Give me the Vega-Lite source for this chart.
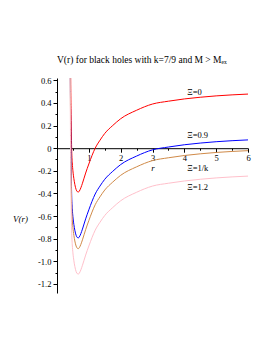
{
  "$schema": "https://vega.github.io/schema/vega-lite/v6.json",
  "autosize": "none",
  "width": 191,
  "height": 215,
  "padding": {"left": 57, "top": 78, "right": 22, "bottom": 57},
  "background": "white",
  "config": {"view": {"stroke": null}, "font": "Liberation Serif", "axis": {"labelOverlap": false, "labelBound": false, "labelFlush": false}},
  "title": {"text": "V(r) for black holes with k=7/9 and M > Mₑₓ", "anchor": "start", "frame": "group", "dx": 0, "offset": 12, "fontSize": 9.5, "fontWeight": "normal", "font": "Liberation Serif", "color": "black"},
  "datasets": {
    "curves": [
      {"r":0.40,"V":2.0,"Xi":"Ξ=0"},{"r":0.42,"V":1.0,"Xi":"Ξ=0"},{"r":0.43,"V":0.6,"Xi":"Ξ=0"},{"r":0.44,"V":0.35,"Xi":"Ξ=0"},{"r":0.45,"V":0.15,"Xi":"Ξ=0"},{"r":0.46,"V":0.0,"Xi":"Ξ=0"},{"r":0.48,"V":-0.13,"Xi":"Ξ=0"},{"r":0.50,"V":-0.2,"Xi":"Ξ=0"},{"r":0.53,"V":-0.27,"Xi":"Ξ=0"},{"r":0.56,"V":-0.32,"Xi":"Ξ=0"},{"r":0.60,"V":-0.365,"Xi":"Ξ=0"},{"r":0.64,"V":-0.385,"Xi":"Ξ=0"},{"r":0.67,"V":-0.388,"Xi":"Ξ=0"},{"r":0.70,"V":-0.38,"Xi":"Ξ=0"},{"r":0.75,"V":-0.35,"Xi":"Ξ=0"},{"r":0.80,"V":-0.31,"Xi":"Ξ=0"},{"r":0.90,"V":-0.22,"Xi":"Ξ=0"},{"r":1.0,"V":-0.14,"Xi":"Ξ=0"},{"r":1.1,"V":-0.065,"Xi":"Ξ=0"},{"r":1.2,"V":0.0,"Xi":"Ξ=0"},{"r":1.35,"V":0.07,"Xi":"Ξ=0"},{"r":1.5,"V":0.13,"Xi":"Ξ=0"},{"r":1.75,"V":0.2,"Xi":"Ξ=0"},{"r":2.0,"V":0.26,"Xi":"Ξ=0"},{"r":2.5,"V":0.335,"Xi":"Ξ=0"},{"r":3.0,"V":0.39,"Xi":"Ξ=0"},{"r":3.5,"V":0.415,"Xi":"Ξ=0"},{"r":4.0,"V":0.435,"Xi":"Ξ=0"},{"r":4.5,"V":0.45,"Xi":"Ξ=0"},{"r":5.0,"V":0.462,"Xi":"Ξ=0"},{"r":5.5,"V":0.471,"Xi":"Ξ=0"},{"r":6.0,"V":0.478,"Xi":"Ξ=0"},

      {"r":0.40,"V":1.6,"Xi":"Ξ=0.9"},{"r":0.42,"V":0.595,"Xi":"Ξ=0.9"},{"r":0.43,"V":0.195,"Xi":"Ξ=0.9"},{"r":0.44,"V":-0.055,"Xi":"Ξ=0.9"},{"r":0.45,"V":-0.255,"Xi":"Ξ=0.9"},{"r":0.46,"V":-0.405,"Xi":"Ξ=0.9"},{"r":0.48,"V":-0.535,"Xi":"Ξ=0.9"},{"r":0.50,"V":-0.605,"Xi":"Ξ=0.9"},{"r":0.53,"V":-0.675,"Xi":"Ξ=0.9"},{"r":0.56,"V":-0.725,"Xi":"Ξ=0.9"},{"r":0.60,"V":-0.77,"Xi":"Ξ=0.9"},{"r":0.64,"V":-0.79,"Xi":"Ξ=0.9"},{"r":0.67,"V":-0.793,"Xi":"Ξ=0.9"},{"r":0.70,"V":-0.785,"Xi":"Ξ=0.9"},{"r":0.75,"V":-0.755,"Xi":"Ξ=0.9"},{"r":0.80,"V":-0.715,"Xi":"Ξ=0.9"},{"r":0.90,"V":-0.625,"Xi":"Ξ=0.9"},{"r":1.0,"V":-0.545,"Xi":"Ξ=0.9"},{"r":1.1,"V":-0.47,"Xi":"Ξ=0.9"},{"r":1.2,"V":-0.405,"Xi":"Ξ=0.9"},{"r":1.35,"V":-0.335,"Xi":"Ξ=0.9"},{"r":1.5,"V":-0.275,"Xi":"Ξ=0.9"},{"r":1.75,"V":-0.205,"Xi":"Ξ=0.9"},{"r":2.0,"V":-0.145,"Xi":"Ξ=0.9"},{"r":2.5,"V":-0.07,"Xi":"Ξ=0.9"},{"r":3.0,"V":-0.015,"Xi":"Ξ=0.9"},{"r":3.5,"V":0.01,"Xi":"Ξ=0.9"},{"r":4.0,"V":0.03,"Xi":"Ξ=0.9"},{"r":4.5,"V":0.045,"Xi":"Ξ=0.9"},{"r":5.0,"V":0.057,"Xi":"Ξ=0.9"},{"r":5.5,"V":0.066,"Xi":"Ξ=0.9"},{"r":6.0,"V":0.073,"Xi":"Ξ=0.9"},

      {"r":0.40,"V":1.5,"Xi":"Ξ=1/k"},{"r":0.42,"V":0.5,"Xi":"Ξ=1/k"},{"r":0.43,"V":0.1,"Xi":"Ξ=1/k"},{"r":0.44,"V":-0.15,"Xi":"Ξ=1/k"},{"r":0.45,"V":-0.35,"Xi":"Ξ=1/k"},{"r":0.46,"V":-0.5,"Xi":"Ξ=1/k"},{"r":0.48,"V":-0.63,"Xi":"Ξ=1/k"},{"r":0.50,"V":-0.7,"Xi":"Ξ=1/k"},{"r":0.53,"V":-0.77,"Xi":"Ξ=1/k"},{"r":0.56,"V":-0.82,"Xi":"Ξ=1/k"},{"r":0.60,"V":-0.865,"Xi":"Ξ=1/k"},{"r":0.64,"V":-0.885,"Xi":"Ξ=1/k"},{"r":0.67,"V":-0.888,"Xi":"Ξ=1/k"},{"r":0.70,"V":-0.88,"Xi":"Ξ=1/k"},{"r":0.75,"V":-0.85,"Xi":"Ξ=1/k"},{"r":0.80,"V":-0.81,"Xi":"Ξ=1/k"},{"r":0.90,"V":-0.72,"Xi":"Ξ=1/k"},{"r":1.0,"V":-0.64,"Xi":"Ξ=1/k"},{"r":1.1,"V":-0.565,"Xi":"Ξ=1/k"},{"r":1.2,"V":-0.5,"Xi":"Ξ=1/k"},{"r":1.35,"V":-0.43,"Xi":"Ξ=1/k"},{"r":1.5,"V":-0.37,"Xi":"Ξ=1/k"},{"r":1.75,"V":-0.3,"Xi":"Ξ=1/k"},{"r":2.0,"V":-0.24,"Xi":"Ξ=1/k"},{"r":2.5,"V":-0.165,"Xi":"Ξ=1/k"},{"r":3.0,"V":-0.11,"Xi":"Ξ=1/k"},{"r":3.5,"V":-0.085,"Xi":"Ξ=1/k"},{"r":4.0,"V":-0.065,"Xi":"Ξ=1/k"},{"r":4.5,"V":-0.05,"Xi":"Ξ=1/k"},{"r":5.0,"V":-0.038,"Xi":"Ξ=1/k"},{"r":5.5,"V":-0.029,"Xi":"Ξ=1/k"},{"r":6.0,"V":-0.022,"Xi":"Ξ=1/k"},

      {"r":0.40,"V":1.28,"Xi":"Ξ=1.2"},{"r":0.42,"V":0.275,"Xi":"Ξ=1.2"},{"r":0.43,"V":-0.125,"Xi":"Ξ=1.2"},{"r":0.44,"V":-0.375,"Xi":"Ξ=1.2"},{"r":0.45,"V":-0.575,"Xi":"Ξ=1.2"},{"r":0.46,"V":-0.725,"Xi":"Ξ=1.2"},{"r":0.48,"V":-0.855,"Xi":"Ξ=1.2"},{"r":0.50,"V":-0.925,"Xi":"Ξ=1.2"},{"r":0.53,"V":-0.995,"Xi":"Ξ=1.2"},{"r":0.56,"V":-1.045,"Xi":"Ξ=1.2"},{"r":0.60,"V":-1.09,"Xi":"Ξ=1.2"},{"r":0.64,"V":-1.11,"Xi":"Ξ=1.2"},{"r":0.67,"V":-1.113,"Xi":"Ξ=1.2"},{"r":0.70,"V":-1.105,"Xi":"Ξ=1.2"},{"r":0.75,"V":-1.075,"Xi":"Ξ=1.2"},{"r":0.80,"V":-1.035,"Xi":"Ξ=1.2"},{"r":0.90,"V":-0.945,"Xi":"Ξ=1.2"},{"r":1.0,"V":-0.865,"Xi":"Ξ=1.2"},{"r":1.1,"V":-0.79,"Xi":"Ξ=1.2"},{"r":1.2,"V":-0.725,"Xi":"Ξ=1.2"},{"r":1.35,"V":-0.655,"Xi":"Ξ=1.2"},{"r":1.5,"V":-0.595,"Xi":"Ξ=1.2"},{"r":1.75,"V":-0.525,"Xi":"Ξ=1.2"},{"r":2.0,"V":-0.465,"Xi":"Ξ=1.2"},{"r":2.5,"V":-0.39,"Xi":"Ξ=1.2"},{"r":3.0,"V":-0.335,"Xi":"Ξ=1.2"},{"r":3.5,"V":-0.31,"Xi":"Ξ=1.2"},{"r":4.0,"V":-0.29,"Xi":"Ξ=1.2"},{"r":4.5,"V":-0.275,"Xi":"Ξ=1.2"},{"r":5.0,"V":-0.263,"Xi":"Ξ=1.2"},{"r":5.5,"V":-0.254,"Xi":"Ξ=1.2"},{"r":6.0,"V":-0.247,"Xi":"Ξ=1.2"}
    ],
    "labels": [
      {"r":4.09,"V":0.50,"Xi":"Ξ=0"},
      {"r":4.09,"V":0.117,"Xi":"Ξ=0.9"},
      {"r":4.09,"V":-0.177,"Xi":"Ξ=1/k"},
      {"r":4.09,"V":-0.345,"Xi":"Ξ=1.2"}
    ]
  },
  "layer": [
    {
      "data": {"name": "curves"},
      "mark": {"type": "line", "clip": true, "strokeWidth": 1, "interpolate": "monotone"},
      "encoding": {
        "x": {"field": "r", "type": "quantitative", "scale": {"domain": [0, 6], "nice": false, "zero": false},
          "axis": {"orient": "bottom", "offset": -144.8, "tickCount": 100, "values": [0.5,1,1.5,2,2.5,3,3.5,4,4.5,5,5.5,6],
            "labelExpr": "datum.value % 1 == 0 ? format(datum.value, 'd') : ''",
            "tickSize": {"condition": {"test": "datum.value % 1 == 0", "value": 4}, "value": 2},
            "title": "r", "titleFontStyle": "italic", "titleFontWeight": "normal", "titleFontSize": 9, "titleFont": "Liberation Serif",
            "titleY": 22, "titleBaseline": "alphabetic",
            "labelFont": "Liberation Serif", "labelFontSize": 8.5, "labelPadding": 1, "labelColor": "black",
            "domainColor": "black", "tickColor": "black", "grid": false, "labelFlush": false, "labelOverlap": false}},
        "y": {"field": "V", "type": "quantitative", "scale": {"domain": [-1.28, 0.62], "nice": false, "zero": false},
          "axis": {"tickCount": 100, "values": [-1.2,-1.1,-1.0,-0.9,-0.8,-0.7,-0.6,-0.5,-0.4,-0.3,-0.2,-0.1,0,0.1,0.2,0.3,0.4,0.5,0.6],
            "labelExpr": "round(datum.value*10) % 2 != 0 ? '' : (abs(datum.value) < 1e-9 ? '0' : (datum.value < 0 ? '-' : '') + format(abs(datum.value), '.1f'))",
            "tickSize": {"condition": {"test": "round(datum.value*10) % 2 == 0", "value": 4}, "value": 2},
            "title": "V(r)", "titleFontStyle": "italic", "titleFontWeight": "normal", "titleFontSize": 9, "titleFont": "Liberation Serif",
            "titleAngle": 0, "titleX": -37, "titleY": 140, "titleAlign": "center", "titleBaseline": "middle",
            "labelFont": "Liberation Serif", "labelFontSize": 8.5, "labelPadding": 2, "labelColor": "black",
            "domainColor": "black", "tickColor": "black", "grid": false, "labelFlush": false, "labelOverlap": false}},
        "color": {"field": "Xi", "type": "nominal", "legend": null,
          "scale": {"domain": ["Ξ=0","Ξ=0.9","Ξ=1/k","Ξ=1.2"], "range": ["#ff0000","#0000ff","#d08a48","#ffc0cb"]}},
        "order": {"field": "r", "type": "quantitative"}
      }
    },
    {
      "data": {"name": "labels"},
      "mark": {"type": "text", "align": "left", "baseline": "middle", "font": "Liberation Serif", "fontSize": 8.5, "color": "black"},
      "encoding": {
        "x": {"field": "r", "type": "quantitative"},
        "y": {"field": "V", "type": "quantitative"},
        "text": {"field": "Xi"}
      }
    }
  ]
}
